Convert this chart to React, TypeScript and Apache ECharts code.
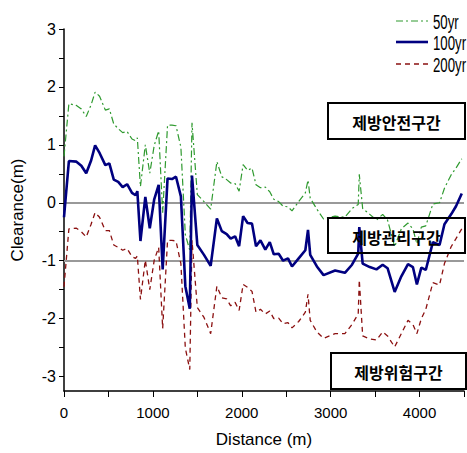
import React, { useEffect, useRef } from 'react';
import * as echarts from 'echarts';

const distances = [0, 55, 140, 195, 250, 305, 350, 400, 465, 510, 560, 610, 660, 710, 765, 805, 825, 860, 915, 965, 1015, 1065, 1110, 1165, 1215, 1260, 1315, 1365, 1415, 1440, 1500, 1575, 1650, 1720, 1775, 1830, 1875, 1925, 1970, 2015, 2065, 2115, 2160, 2210, 2265, 2315, 2360, 2415, 2465, 2520, 2565, 2640, 2715, 2745, 2770, 2845, 2920, 3050, 3160, 3240, 3310, 3322, 3360, 3440, 3515, 3585, 3640, 3720, 3795, 3870, 3925, 3970, 4020, 4070, 4150, 4225, 4280, 4355, 4410, 4475];

const clearance50 = [
  0.80, 1.71, 1.68, 1.62, 1.49, 1.69, 1.91, 1.84, 1.60, 1.62,
  1.36, 1.28, 1.21, 1.23, 1.10, 1.07, 1.12, 0.28, 1.00, 0.51,
  0.99, 1.24, -0.17, 1.34, 1.34, 1.33, 0.96, -0.55, -0.82, 1.38,
  0.14, 0.02, -0.11, 0.71, 0.45, 0.40, 0.34, 0.33, 0.20, 0.66,
  0.56, 0.60, 0.31, 0.26, 0.27, 0.19, 0.06, 0.02, -0.06, -0.07,
  -0.14, 0.02, 0.17, 0.39, 0.08, -0.11, -0.28, -0.23, -0.25, -0.10,
  -0.03, 0.49, -0.10, -0.20, -0.30, -0.20, -0.30, -0.76, -0.45, -0.35,
  -0.45, -0.71, -0.42, -0.40, -0.02, 0.00, 0.25, 0.48, 0.60, 0.76,
];

const clearance100 = [
  -0.25, 0.72, 0.71, 0.64, 0.51, 0.73, 0.99, 0.86, 0.65, 0.68,
  0.40, 0.36, 0.27, 0.32, 0.17, 0.13, 0.20, -0.66, 0.10, -0.44,
  0.06, 0.31, -1.15, 0.42, 0.41, 0.45, 0.11, -1.44, -1.83, 0.47,
  -0.73, -0.90, -1.09, -0.27, -0.49, -0.54, -0.62, -0.58, -0.75, -0.23,
  -0.35, -0.36, -0.75, -0.65, -0.81, -0.68, -0.89, -0.88, -1.00, -0.96,
  -1.10, -0.96, -0.82, -0.47, -0.90, -1.10, -1.25, -1.17, -1.21, -1.07,
  -0.88, -0.42, -1.05, -1.11, -1.15, -1.07, -1.13, -1.54, -1.27, -1.06,
  -1.11, -1.41, -1.12, -1.16, -0.68, -0.73, -0.37, -0.20, -0.06, 0.16,
];

const clearance200 = [
  -1.45, -0.45, -0.44, -0.50, -0.59, -0.37, -0.17, -0.25, -0.48, -0.48,
  -0.73, -0.77, -0.82, -0.79, -0.93, -0.96, -0.92, -1.67, -0.99, -1.50,
  -0.99, -0.77, -2.17, -0.65, -0.65, -0.66, -1.05, -2.51, -2.88, -0.65,
  -1.81, -1.98, -2.26, -1.44, -1.64, -1.66, -1.78, -1.72, -1.86, -1.41,
  -1.46, -1.53, -1.89, -1.84, -1.92, -1.87, -2.00, -1.99, -2.09, -2.07,
  -2.16, -2.05, -1.89, -1.58, -2.03, -2.23, -2.34, -2.26, -2.26, -2.10,
  -1.92, -1.33, -2.30, -2.35, -2.37, -2.23, -2.30, -2.49, -2.26, -2.03,
  -2.10, -2.26, -2.00, -1.84, -1.38, -1.42, -1.05, -0.76, -0.62, -0.45,
];

const seriesNames = ['50yr', '100yr', '200yr'];
const yLabelValues = [-3, -2, -1, 0, 1, 2, 3];
const yTickValues = [-3, -2.5, -2, -1.5, -1, -0.5, 0, 0.5, 1, 1.5, 2, 2.5, 3];
const referenceLevels = [0, -1];
const zoneLabels = ['제방안전구간', '제방관리구간', '제방위험구간'];

const LATIN = '"Liberation Sans", Arial, sans-serif';
const KOREAN = '"Noto Sans CJK KR", "Noto Sans CJK SC", sans-serif';

const COLORS = ['#2f9a2f', '#000080', '#8b1010'];
const WIDTHS = [1.2, 2.6, 1.3];
const DASHES: (number[] | null)[] = [[7, 3, 2, 3], null, [5, 4]];

const zoneBox = (label: string, x: number, y: number, w: number, h: number) => ({
  type: 'group',
  children: [
    {
      type: 'rect',
      shape: { x, y, width: w, height: h },
      style: { fill: 'rgba(0,0,0,0)', stroke: '#000', lineWidth: 2 },
      z: 10,
    },
    {
      type: 'text',
      x: x + w / 2,
      y: y + h / 2 + 1,
      style: {
        text: label,
        fontSize: 16,
        fontWeight: 'bold',
        fontFamily: KOREAN,
        fill: '#000',
        align: 'center',
        verticalAlign: 'middle',
      },
      z: 11,
    },
  ],
});

const legendItem = (i: number, y: number) => ({
  type: 'group',
  children: [
    {
      type: 'line',
      shape: { x1: 396, y1: y, x2: 428, y2: y },
      style: {
        stroke: COLORS[i],
        lineWidth: WIDTHS[i],
        lineDash: DASHES[i] || undefined,
      },
      z: 10,
    },
    {
      type: 'text',
      x: 433,
      y: y + 1,
      scaleX: 0.63,
      style: {
        text: seriesNames[i],
        fontSize: 21,
        fontFamily: LATIN,
        fill: '#000',
        align: 'left',
        verticalAlign: 'middle',
      },
      z: 10,
    },
  ],
});

export default function App() {
  const ref = useRef<HTMLDivElement>(null);
  useEffect(() => {
    if (!ref.current) return;
    const chart = echarts.init(ref.current, null, { renderer: 'svg' });
    const toData = (vals: number[]) => distances.map((d, i) => [d, vals[i]]);
    const valueSets = [clearance50, clearance100, clearance200];
    chart.setOption({
      animation: false,
      backgroundColor: '#fff',
      grid: { left: 64, top: 29, right: 1, bottom: 56, containLabel: false },
      xAxis: {
        type: 'value',
        min: 0,
        max: 4500,
        interval: 500,
        name: 'Distance (m)',
        nameLocation: 'middle',
        nameGap: 40,
        nameTextStyle: { fontSize: 17, fontFamily: LATIN, color: '#000' },
        axisLine: { show: true, onZero: false, lineStyle: { color: '#000', width: 1.5 } },
        axisTick: { show: true, inside: false, length: 6, lineStyle: { color: '#000', width: 1 } },
        axisLabel: {
          fontSize: 15,
          fontFamily: LATIN,
          color: '#000',
          margin: 14,
          formatter: (v: number) => (v % 1000 === 0 ? String(v) : ''),
        },
        splitLine: { show: false },
      },
      yAxis: {
        type: 'value',
        min: -3.25,
        max: 3,
        name: 'Clearance(m)',
        nameLocation: 'middle',
        nameGap: 38,
        nameTextStyle: { fontSize: 17, fontFamily: LATIN, color: '#000' },
        axisLine: { show: true, onZero: false, lineStyle: { color: '#000', width: 1.5 } },
        axisTick: { show: true, length: 5, customValues: yTickValues, lineStyle: { color: '#000', width: 1 } },
        axisLabel: { fontSize: 16, fontFamily: LATIN, color: '#000', margin: 8, customValues: yLabelValues },
        splitLine: { show: false },
      },
      series: seriesNames.map((name, i) => ({
        name,
        type: 'line',
        data: toData(valueSets[i]),
        showSymbol: false,
        symbol: 'none',
        z: i === 1 ? 4 : 3,
        lineStyle: { color: COLORS[i], width: WIDTHS[i], type: DASHES[i] || 'solid' },
        itemStyle: { color: COLORS[i] },
        ...(i === 1
          ? {
              markLine: {
                silent: true,
                symbol: ['none', 'none'],
                z: 1,
                label: { show: false },
                lineStyle: { color: '#999', width: 2, type: 'solid' },
                data: referenceLevels.map((v) => ({ yAxis: v })),
              },
            }
          : {}),
      })),
      graphic: [
        legendItem(0, 21),
        legendItem(1, 42),
        legendItem(2, 64),
        zoneBox(zoneLabels[0], 328, 103, 137, 36),
        zoneBox(zoneLabels[1], 328, 218, 137, 35),
        zoneBox(zoneLabels[2], 331, 353, 135, 36),
      ],
    });
    return () => chart.dispose();
  }, []);
  return (
    <div
      ref={ref}
      style={{ position: 'absolute', left: 0, top: 0, width: 467, height: 453 }}
    />
  );
}
